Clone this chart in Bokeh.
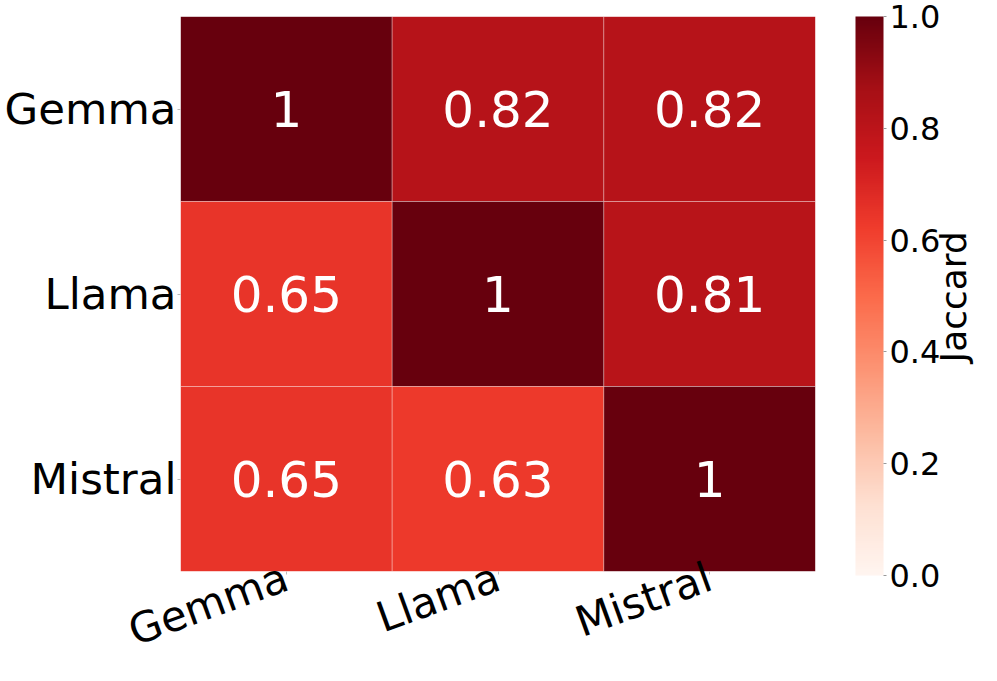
import numpy as np
from bokeh.plotting import figure
from bokeh.models import (ColumnDataSource, LinearColorMapper, ColorBar, FixedTicker,
                          PrintfTickFormatter, LinearAxis, Range1d, CustomJSTickFormatter)
from bokeh.palettes import Reds9
from bokeh.transform import transform
from bokeh.core.properties import value
from bokeh.embed import file_html
from bokeh.resources import INLINE

# ---- data ----
models = ["Gemma", "Llama", "Mistral"]
row_gemma = [1.0, 0.82, 0.82]
row_llama = [0.65, 1.0, 0.81]
row_mistral = [0.65, 0.63, 1.0]
cbar_ticks = [0.0, 0.2, 0.4, 0.6, 0.8, 1.0]
cbar_label = "Jaccard"

n = len(models)
rows = [row_gemma, row_llama, row_mistral]
xs, ys, vals, txt = [], [], [], []
for i, rv in enumerate(rows):
    for j, v in enumerate(rv):
        xs.append(j + 0.5)            # column index -> cell centre
        ys.append(n - 1 - i + 0.5)    # first row drawn at the top
        vals.append(v)
        txt.append(f"{v:.2g}")
src = ColumnDataSource(dict(x=xs, y=ys, v=vals, t=txt))

# smooth "Reds" palette (light -> dark) interpolated from the 9 brewer anchors
anchors = list(reversed(Reds9))
rgb = np.array([[int(h[i:i + 2], 16) for i in (1, 3, 5)] for h in anchors], float)
pos = np.linspace(0, 1, len(anchors))
grid = np.linspace(0, 1, 256)
interp = np.stack([np.interp(grid, pos, rgb[:, k]) for k in range(3)], axis=1)
palette = ["#%02x%02x%02x" % tuple(int(round(c)) for c in row) for row in interp]
mapper = LinearColorMapper(palette=palette, low=0.0, high=1.0)

FONT = "DejaVu Sans"

p = figure(x_range=Range1d(0, n), y_range=Range1d(0, n), width=997, height=681,
           output_backend="svg", toolbar_location=None,
           min_border_left=180, min_border_right=182, min_border_top=16, min_border_bottom=106)
p.outline_line_color = None
p.grid.visible = False
p.background_fill_color = "white"

p.rect(x="x", y="y", width=1, height=1, source=src,
       fill_color=transform("v", mapper), line_color="white", line_alpha=0.3, line_width=1)
p.text(x="x", y="y", text="t", source=src, text_color="white",
       text_font=value(FONT), text_font_size="50px",
       text_align="center", text_baseline="middle")

centres = [k + 0.5 for k in range(n)]
p.xaxis.ticker = FixedTicker(ticks=centres)
p.yaxis.ticker = FixedTicker(ticks=centres)
p.xaxis.formatter = CustomJSTickFormatter(args=dict(labels=models),
                                          code="return labels[Math.floor(tick)];")
p.yaxis.formatter = CustomJSTickFormatter(args=dict(labels=models),
                                          code="return labels[labels.length - 1 - Math.floor(tick)];")

for ax in (p.xaxis[0], p.yaxis[0]):
    ax.axis_line_color = None
    ax.major_tick_in = 0
    ax.major_tick_out = 3
    ax.minor_tick_in = 0
    ax.minor_tick_out = 0
    ax.major_tick_line_color = "#bbbbbb"
    ax.major_label_text_font = FONT
    ax.major_label_text_color = "black"
p.yaxis.major_label_text_font_size = "43.5px"
p.yaxis.major_label_standoff = 1
p.xaxis.major_label_text_font_size = "42px"
p.xaxis.major_label_standoff = 1
p.xaxis.major_label_orientation = np.pi / 9

cb = ColorBar(color_mapper=mapper, ticker=FixedTicker(ticks=cbar_ticks),
              formatter=PrintfTickFormatter(format="%.1f"),
              width=28, height=559, location=(675, -4), padding=0, margin=0,
              bar_line_color=None, border_line_color=None, background_fill_alpha=0,
              major_tick_in=0, major_tick_out=3, major_tick_line_color="#999999",
              major_label_text_font=FONT, major_label_text_font_size="32px",
              major_label_text_color="black", label_standoff=3)
p.add_layout(cb, "center")

# right-hand axis carrying the colour-bar title as a single rotated label
cax = LinearAxis(ticker=FixedTicker(ticks=[1.13]),
                 formatter=CustomJSTickFormatter(args=dict(t=cbar_label), code="return t;"),
                 axis_line_color=None, major_tick_in=0, major_tick_out=0,
                 minor_tick_in=0, minor_tick_out=0,
                 major_label_standoff=138, major_label_orientation=np.pi / 2,
                 major_label_text_font=FONT, major_label_text_font_size="36px",
                 major_label_text_color="black")
p.add_layout(cax, "right")

open("out.html", "w").write(file_html(p, INLINE))
